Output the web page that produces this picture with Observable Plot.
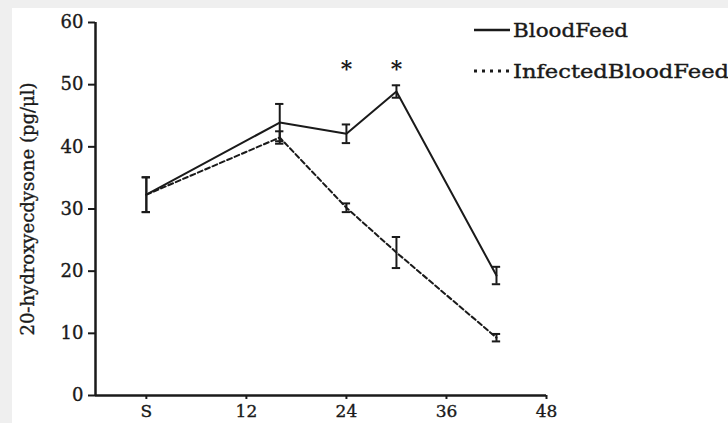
<!DOCTYPE html>
<html><head><meta charset="utf-8">
<script src="https://cdn.jsdelivr.net/npm/d3@7"></script>
<script src="https://cdn.jsdelivr.net/npm/@observablehq/plot@0.6"></script>
<style>
body{margin:0;background:#fff;}
#wrap{position:relative;width:728px;height:423px;overflow:hidden;}
#legend{position:absolute;left:0;top:0;pointer-events:none;}
.chart g[aria-label="x-axis tick label"]{font-size:17px;}
.chart g[aria-label="y-axis tick label"]{font-size:18px;}
.chart g[aria-label="y-axis label"]{font-size:18px;}
.chart g[aria-label$="label"] text{stroke:#1a1a1a;stroke-width:0.35px;}
#legend text{stroke:#1a1a1a;stroke-width:0.4px;}
</style></head><body><div id="wrap"></div>
<script>
const times = [0, 16, 24, 30, 42];
const xTicks = [0, 12, 24, 36, 48];
const xTickLabels = ["S", "12", "24", "36", "48"];
const yTicks = [0, 10, 20, 30, 40, 50, 60];
const xDomain = [-6.1, 48];
const yDomain = [0, 60];
const bloodFeed = [32.3, 43.9, 42.1, 48.9, 19.3];
const bloodFeedErr = [2.8, 3.0, 1.5, 1.0, 1.4];
const infected = [32.3, 41.5, 30.2, 23.0, 9.3];
const infectedErr = [2.8, 1.0, 0.7, 2.5, 0.6];
const starTimes = [24, 30];
const starLevel = [52.6, 52.6];
const seriesNames = ["BloodFeed", "InfectedBloodFeed"];

const bf = times.map((t, i) => ({t, v: bloodFeed[i], e: bloodFeedErr[i]}));
const inf = times.map((t, i) => ({t, v: infected[i], e: infectedErr[i]}));
const stars = starTimes.map((t, i) => ({t, v: starLevel[i]}));
const ink = "#1a1a1a";
const capHalf = 0.5;

function errorMarks(d) {
  return [
    Plot.ruleX(d, {x: "t", y1: r => r.v - r.e, y2: r => r.v + r.e, stroke: ink, strokeWidth: 2}),
    Plot.ruleY(d, {y: r => r.v + r.e, x1: r => r.t - capHalf, x2: r => r.t + capHalf, stroke: ink, strokeWidth: 2}),
    Plot.ruleY(d, {y: r => r.v - r.e, x1: r => r.t - capHalf, x2: r => r.t + capHalf, stroke: ink, strokeWidth: 2})
  ];
}

const chart = Plot.plot({
  className: "chart",
  width: 728, height: 423,
  marginLeft: 95, marginRight: 182, marginTop: 22, marginBottom: 28,
  x: {domain: xDomain},
  y: {domain: yDomain},
  style: {fontFamily: "DejaVu Serif", fontSize: "17px", color: ink, background: "white", boxShadow: "inset 12px 8px 0 #efefef"},
  marks: [
    Plot.axisX({ticks: xTicks, tickFormat: d => xTickLabels[xTicks.indexOf(d)], tickSize: 4, tickPadding: 5, strokeWidth: 2, label: null}),
    Plot.axisY({ticks: yTicks, tickSize: 7, tickPadding: 5, strokeWidth: 2, label: "20-hydroxyecdysone (pg/μl)", labelAnchor: "center", labelOffset: 74, labelArrow: "none"}),
    Plot.ruleY([yDomain[0]], {stroke: ink, strokeWidth: 2.5}),
    Plot.ruleX([xDomain[0]], {stroke: ink, strokeWidth: 2.5}),
    Plot.line(inf, {x: "t", y: "v", stroke: ink, strokeWidth: 2, strokeDasharray: "5,3"}),
    Plot.line(bf, {x: "t", y: "v", stroke: ink, strokeWidth: 2}),
    ...errorMarks(bf),
    ...errorMarks(inf),
    Plot.text(stars, {x: "t", y: "v", text: () => "*", fontSize: 22, fontWeight: "bold", fill: ink})
  ]
});
const wrap = document.getElementById("wrap");
wrap.appendChild(chart);

const ns = "http://www.w3.org/2000/svg";
const leg = document.createElementNS(ns, "svg");
leg.setAttribute("id", "legend");
leg.setAttribute("width", 728);
leg.setAttribute("height", 423);
const rows = [{y: 30, dash: null}, {y: 71, dash: "3,5"}];
rows.forEach((r, i) => {
  const l = document.createElementNS(ns, "line");
  l.setAttribute("x1", 474); l.setAttribute("x2", 510);
  l.setAttribute("y1", r.y); l.setAttribute("y2", r.y);
  l.setAttribute("stroke", ink); l.setAttribute("stroke-width", r.dash ? 3 : 2.5);
  if (r.dash) l.setAttribute("stroke-dasharray", r.dash);
  leg.appendChild(l);
  const t = document.createElementNS(ns, "text");
  t.setAttribute("x", 513); t.setAttribute("y", r.y);
  t.setAttribute("dy", "0.35em");
  t.setAttribute("font-family", "DejaVu Serif");
  t.setAttribute("font-size", 19);
  t.setAttribute("fill", ink);
  t.setAttribute("transform", `translate(513,0) scale(${i ? 1.19 : 1.13},1) translate(-513,0)`);
  t.textContent = seriesNames[i];
  leg.appendChild(t);
});
wrap.appendChild(leg);
</script></body></html>
